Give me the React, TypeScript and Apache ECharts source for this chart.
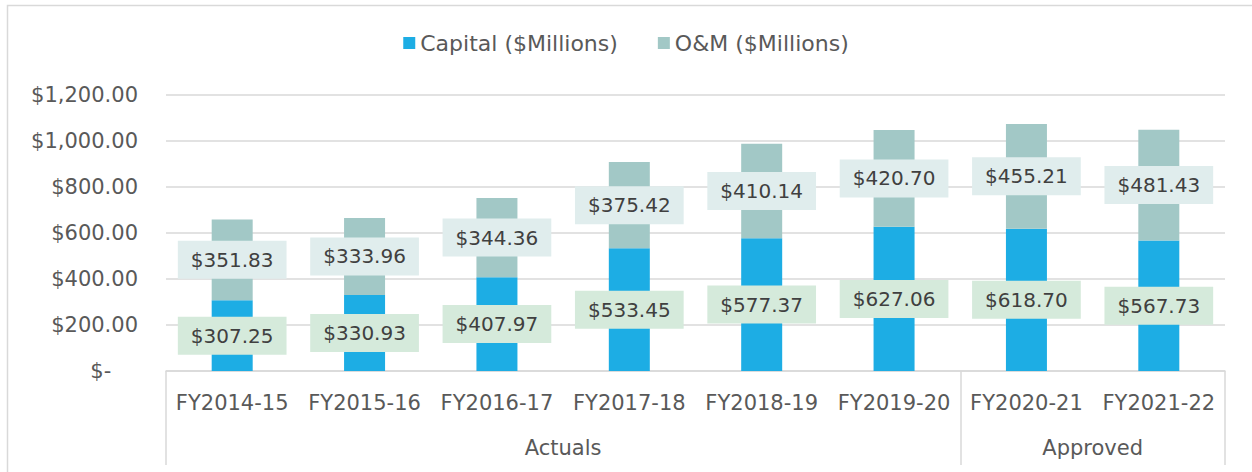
import React, { useEffect, useRef } from "react";
import * as echarts from "echarts";

const categories = ["FY2014-15", "FY2015-16", "FY2016-17", "FY2017-18", "FY2018-19", "FY2019-20", "FY2020-21", "FY2021-22"];
const capital = [307.25, 330.93, 407.97, 533.45, 577.37, 627.06, 618.7, 567.73];
const om = [351.83, 333.96, 344.36, 375.42, 410.14, 420.7, 455.21, 481.43];
const groupNames = ["Actuals", "Approved"];
const groupCenters = [3, 7];
const groupBounds = [0, 6, 8];

const FONT = "'Century Gothic', 'DejaVu Sans', sans-serif";

const fmtMoney = (v: number) =>
  "$" + v.toLocaleString("en-US", { minimumFractionDigits: 2, maximumFractionDigits: 2 });

export default function App() {
  const ref = useRef<HTMLDivElement>(null);
  useEffect(() => {
    document.body.style.margin = "0";
    const chart = echarts.init(ref.current!, null, { renderer: "svg" });
    chart.setOption({
      animation: false,
      backgroundColor: "#ffffff",
      textStyle: { fontFamily: FONT },
      graphic: [
        {
          type: "rect",
          shape: { x: 7.5, y: 5.5, width: 1260, height: 480 },
          style: { fill: "none", stroke: "#D9D9D9", lineWidth: 1.5 },
          silent: true,
        },
      ],
      legend: {
        top: 27,
        left: "center",
        itemWidth: 12,
        itemHeight: 12,
        itemGap: 40,
        icon: "rect",
        textStyle: { fontSize: 22, color: "#595959", fontFamily: FONT },
        data: ["Capital ($Millions)", "O&M ($Millions)"],
      },
      grid: { left: 166, right: 27, top: 95, bottom: 101, containLabel: false },
      xAxis: [
        {
          type: "category",
          data: categories,
          axisLine: { lineStyle: { color: "#D9D9D9", width: 1.5 } },
          axisTick: { show: false },
          axisLabel: { fontSize: 21, color: "#595959", margin: 21, fontFamily: FONT, interval: 0 },
        },
        {
          type: "value",
          min: 0,
          max: 8,
          position: "bottom",
          axisLine: { show: false },
          splitLine: { show: false },
          axisTick: {
            show: true,
            customValues: groupBounds,
            length: 94,
            lineStyle: { color: "#D9D9D9", width: 1.5 },
          },
          axisLabel: {
            customValues: groupCenters,
            fontSize: 21,
            color: "#595959",
            margin: 66,
            fontFamily: FONT,
            formatter: (v: number) => {
              const i = groupCenters.indexOf(v);
              return i >= 0 ? groupNames[i] : "";
            },
          },
        },
      ],
      yAxis: {
        type: "value",
        min: 0,
        max: 1200,
        interval: 200,
        axisLine: { show: false },
        axisTick: { show: false },
        splitLine: { lineStyle: { color: "#D9D9D9", width: 1.5 } },
        axisLabel: {
          fontSize: 21,
          color: "#595959",
          margin: 28,
          fontFamily: FONT,
          formatter: (v: number) => (v === 0 ? "$-    " : fmtMoney(v)),
        },
      },
      series: [
        {
          name: "Capital ($Millions)",
          type: "bar",
          stack: "total",
          barWidth: 41,
          data: capital,
          itemStyle: { color: "#1DADE4" },
          label: {
            show: true,
            position: "inside",
            formatter: (p: any) => fmtMoney(p.value),
            fontSize: 20,
            color: "#404040",
            fontFamily: FONT,
            backgroundColor: "#D5EADB",
            padding: [9, 13, 9, 13],
          },
        },
        {
          name: "O&M ($Millions)",
          type: "bar",
          stack: "total",
          barWidth: 41,
          data: om,
          itemStyle: { color: "#A2C8C6" },
          label: {
            show: true,
            position: "inside",
            formatter: (p: any) => fmtMoney(p.value),
            fontSize: 20,
            color: "#404040",
            fontFamily: FONT,
            backgroundColor: "#E0EDED",
            padding: [9, 13, 9, 13],
          },
        },
      ],
    });
    return () => chart.dispose();
  }, []);
  return <div ref={ref} style={{ width: 1252, height: 472 }} />;
}
